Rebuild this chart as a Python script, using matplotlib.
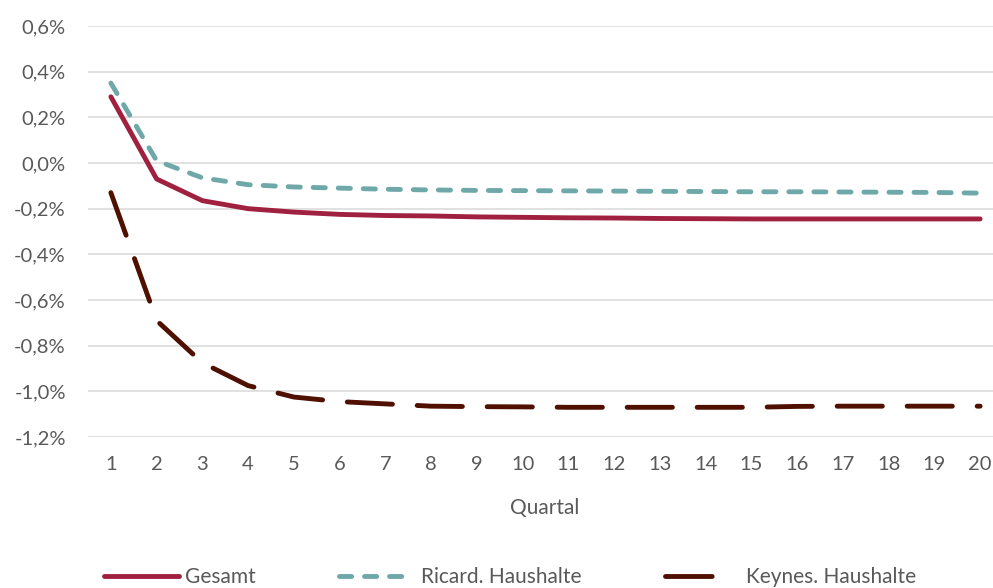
import numpy as np
import matplotlib
matplotlib.use('Agg')
import matplotlib.pyplot as plt
from matplotlib.lines import Line2D
from matplotlib.ticker import FuncFormatter

plt.rcParams['font.family'] = ['Lato', 'DejaVu Sans']

quartal = list(range(1, 21))

gesamt = [0.29, -0.07, -0.165, -0.20, -0.215, -0.225, -0.23, -0.232, -0.236, -0.238,
          -0.240, -0.241, -0.243, -0.244, -0.245, -0.245, -0.245, -0.245, -0.245, -0.245]
ricard = [0.35, 0.01, -0.065, -0.095, -0.105, -0.11, -0.115, -0.118, -0.12, -0.121,
          -0.122, -0.123, -0.124, -0.125, -0.126, -0.126, -0.127, -0.128, -0.129, -0.132]
keynes = [-0.13, -0.69, -0.875, -0.975, -1.025, -1.045, -1.055, -1.065, -1.067, -1.068,
          -1.07, -1.07, -1.07, -1.07, -1.07, -1.066, -1.065, -1.065, -1.065, -1.065]
null_linie = [0.0] * 20

y_ticks = [0.6, 0.4, 0.2, 0.0, -0.2, -0.4, -0.6, -0.8, -1.0, -1.2]

text_col = '#595959'
c_ges, c_ric, c_key = '#A0213F', '#6FA8A8', '#4F1000'
lw = 3.5

fig = plt.figure(figsize=(9.93, 5.88), dpi=100)
ax = fig.add_axes([88 / 993, 1 - 437 / 588, (1003 - 88) / 993, (437 - 26) / 588])

ax.plot(quartal, null_linie, color='#7F7F7F', lw=1.8, dashes=(0, 4),
        dash_capstyle='round', zorder=2)
ax.plot(quartal, keynes, color=c_key, lw=lw, dashes=(9.3, 5.1),
        dash_capstyle='round', solid_capstyle='round', zorder=3)
ax.plot(quartal, ricard, color=c_ric, lw=lw, dashes=(2.5, 2.65),
        dash_capstyle='round', solid_capstyle='round', zorder=4)
ax.plot(quartal, gesamt, color=c_ges, lw=lw, solid_capstyle='round', zorder=5)

ax.set_xlim(0.5, 20.5)
ax.set_ylim(-1.2, 0.6)
ax.set_xticks(quartal)
ax.set_yticks(y_ticks)
ax.yaxis.set_major_formatter(FuncFormatter(lambda v, p: f'{v:.1f}%'.replace('.', ',').replace('-0,0', '0,0')))

ax.grid(axis='y', color='#D9D9D9', lw=1.1, zorder=0)
for s in ax.spines.values():
    s.set_visible(False)
ax.tick_params(length=0, labelsize=14.5, labelcolor=text_col)
ax.tick_params(axis='x', pad=14)
ax.tick_params(axis='y', pad=16)

fig.text(545 / 993, 1 - 508 / 588, 'Quartal', ha='center', va='center',
         fontsize=15, color=text_col)

# legend proxies: the Keynes key shows one long dash followed by a gap
proxies = [
    Line2D([], [], color=c_ges, lw=lw, solid_capstyle='round'),
    Line2D([], [], color=c_ric, lw=lw, dashes=(2.5, 2.65), dash_capstyle='round'),
    Line2D([], [], color=c_key, lw=lw, dashes=(9.6, 20), dash_capstyle='round'),
]
fig.legend(proxies, ['Gesamt', 'Ricard. Haushalte', 'Keynes. Haushalte'],
           loc='center', bbox_to_anchor=(510 / 993, 1 - 577 / 588), ncol=3,
           frameon=False, fontsize=15, handlelength=3.6, handletextpad=0.3,
           columnspacing=4.0, labelcolor=text_col)

fig.savefig('out.png', dpi=100)
